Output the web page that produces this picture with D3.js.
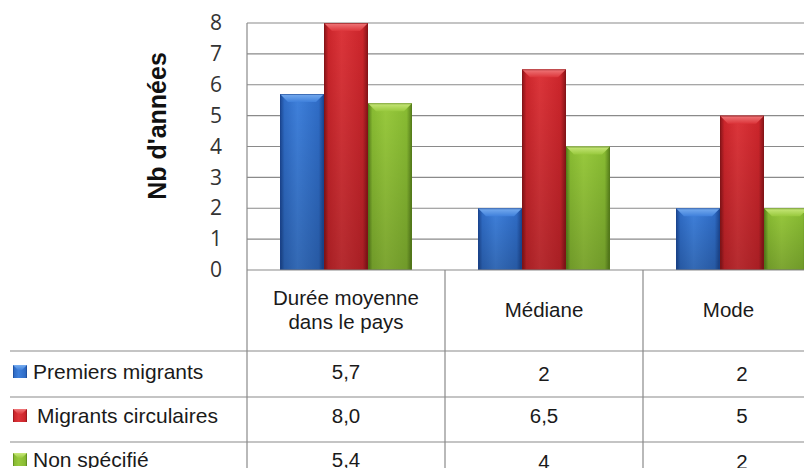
<!DOCTYPE html>
<html>
<head>
<meta charset="utf-8">
<script src="https://cdn.jsdelivr.net/npm/d3@7/dist/d3.min.js"></script>
<style>
  html, body { margin: 0; padding: 0; background: #fff; }
  svg { display: block; }
</style>
</head>
<body>
<svg id="chart" width="804" height="468"></svg>
<script>
// Categories (columns of the data table) and series (rows)
const categories = ["Durée moyenne\ndans le pays", "Médiane", "Mode"];
const seriesNames = ["Premiers migrants", "Migrants circulaires", "Non spécifié"];
const premiersMigrants = [5.7, 2, 2];
const migrantsCirculaires = [8.0, 6.5, 5];
const nonSpecifie = [5.4, 4, 2];
const tableLabels = [["5,7", "2", "2"], ["8,0", "6,5", "5"], ["5,4", "4", "2"]];
const yTicks = [0, 1, 2, 3, 4, 5, 6, 7, 8];

const seriesValues = [premiersMigrants, migrantsCirculaires, nonSpecifie];
const palette = [
  { mid: "#2f6cc6", light: "#3f80db", dark: "#1a4590", top: "#79aef0" },
  { mid: "#cc252b", light: "#dc353a", dark: "#851418", top: "#f07a7c" },
  { mid: "#88bb32", light: "#98c93d", dark: "#557d1a", top: "#c9e87c" }
];

const svg = d3.select("#chart");
const defs = svg.append("defs");

palette.forEach((c, i) => {
  const g = defs.append("linearGradient").attr("id", "body" + i)
    .attr("x1", "0").attr("x2", "1").attr("y1", "0").attr("y2", "0");
  g.append("stop").attr("offset", "0%").attr("stop-color", c.dark);
  g.append("stop").attr("offset", "10%").attr("stop-color", c.mid);
  g.append("stop").attr("offset", "40%").attr("stop-color", c.light);
  g.append("stop").attr("offset", "88%").attr("stop-color", c.mid);
  g.append("stop").attr("offset", "100%").attr("stop-color", c.dark);
  const t = defs.append("linearGradient").attr("id", "top" + i)
    .attr("x1", "0").attr("x2", "0").attr("y1", "0").attr("y2", "1");
  t.append("stop").attr("offset", "0%").attr("stop-color", c.top);
  t.append("stop").attr("offset", "100%").attr("stop-color", c.light);
});
// Darkening towards the foot of every bar
const shade = defs.append("linearGradient").attr("id", "shade")
  .attr("x1", "0").attr("x2", "0").attr("y1", "0").attr("y2", "1");
shade.append("stop").attr("offset", "0%").attr("stop-color", "#000").attr("stop-opacity", 0);
shade.append("stop").attr("offset", "100%").attr("stop-color", "#000").attr("stop-opacity", 0.18);

const plotLeft = 247, plotTop = 23, plotBottom = 270, catWidth = 198;
const tableLeft = 10, tableRight = 804;
const font = "'Liberation Sans', Arial, sans-serif";

const x = d3.scaleBand().domain(d3.range(categories.length))
  .range([plotLeft, plotLeft + catWidth * categories.length]).padding(0);
const xs = d3.scaleBand().domain(d3.range(seriesNames.length))
  .range([0, x.bandwidth()]).paddingInner(0).paddingOuter(0.75);
const y = d3.scaleLinear().domain([0, 8]).range([plotBottom, plotTop]);

// Gridlines
svg.append("g").selectAll("line").data(yTicks.filter(d => d > 0)).join("line")
  .attr("x1", plotLeft).attr("x2", tableRight)
  .attr("y1", d => y(d)).attr("y2", d => y(d))
  .attr("stroke", "#8a8a8a").attr("stroke-width", 1.2);

// Y axis
const yAxis = svg.append("g").attr("transform", `translate(${plotLeft},0)`)
  .call(d3.axisLeft(y).tickValues(yTicks).tickSize(0).tickPadding(25));
yAxis.select(".domain").remove();
yAxis.selectAll("text")
  .attr("font-family", "'Open Sans', 'Noto Sans', sans-serif")
  .attr("font-size", 21).attr("fill", "#333");

svg.append("text")
  .attr("transform", `translate(166,126) rotate(-90)`)
  .attr("text-anchor", "middle")
  .attr("font-family", font)
  .attr("font-weight", "bold").attr("font-size", 25).attr("fill", "#111")
  .text("Nb d'années");

// Bars
const barData = [];
seriesValues.forEach((vals, s) => vals.forEach((v, c) => barData.push({ s, c, v })));
const bars = svg.append("g").selectAll("g").data(barData).join("g");
const bx = d => x(d.c) + xs(d.s);
bars.append("rect")
  .attr("x", bx).attr("y", d => y(d.v))
  .attr("width", xs.bandwidth()).attr("height", d => y(0) - y(d.v))
  .attr("fill", d => `url(#body${d.s})`);
bars.append("rect")
  .attr("x", bx).attr("y", d => y(d.v))
  .attr("width", xs.bandwidth()).attr("height", d => y(0) - y(d.v))
  .attr("fill", "url(#shade)");
bars.append("path")
  .attr("d", d => {
    const x0 = bx(d), x1 = x0 + xs.bandwidth(), t = y(d.v), b = 8;
    return `M${x0},${t}L${x1},${t}L${x1 - b},${t + b}L${x0 + b},${t + b}Z`;
  })
  .attr("fill", d => `url(#top${d.s})`);
bars.append("rect")
  .attr("x", d => bx(d) + 0.5).attr("y", d => y(d.v) + 0.5)
  .attr("width", xs.bandwidth() - 1).attr("height", d => y(0) - y(d.v) - 1)
  .attr("fill", "none").attr("stroke", d => palette[d.s].dark).attr("stroke-opacity", 0.6);

// Table lines
const lines = svg.append("g").attr("stroke", "#8a8a8a").attr("stroke-width", 1.2);
lines.append("line").attr("x1", plotLeft).attr("x2", tableRight).attr("y1", plotBottom).attr("y2", plotBottom);
const rowLines = [351, 397, 442];
rowLines.forEach(ry => lines.append("line")
  .attr("x1", tableLeft).attr("x2", tableRight).attr("y1", ry).attr("y2", ry));
lines.append("line").attr("x1", plotLeft).attr("x2", plotLeft).attr("y1", plotTop).attr("y2", 468);
d3.range(1, categories.length).forEach(c => lines.append("line")
  .attr("x1", x(c)).attr("x2", x(c)).attr("y1", plotBottom).attr("y2", 468));

// Header row: text centred in the visible part of each cell
categories.forEach((cat, c) => {
  const parts = cat.split("\n");
  const right = Math.min(x(c) + x.bandwidth(), tableRight + 10);
  const cx = (x(c) + right) / 2;
  const cy = 310;
  parts.forEach((p, i) => {
    svg.append("text").attr("x", cx)
      .attr("y", cy + (i - (parts.length - 1) / 2) * 24)
      .attr("dy", "0.35em").attr("text-anchor", "middle")
      .attr("font-family", font).attr("font-size", 20.5).attr("fill", "#1a1a1a")
      .text(p);
  });
});

// Data rows with legend keys
const rowCenters = [372, 416, 460];
seriesNames.forEach((name, s) => {
  const cy = rowCenters[s];
  svg.append("rect").attr("x", 13).attr("y", cy - 7).attr("width", 14).attr("height", 13)
    .attr("fill", `url(#body${s})`);
  svg.append("path")
    .attr("d", `M13,${cy - 7}L27,${cy - 7}L22,${cy - 2}L18,${cy - 2}Z`)
    .attr("fill", `url(#top${s})`);
  svg.append("text").attr("x", s === 1 ? 37 : 33).attr("y", cy).attr("dy", "0.35em")
    .attr("font-family", font).attr("font-size", 21).attr("fill", "#1a1a1a")
    .text(name);
  tableLabels[s].forEach((lbl, c) => {
    svg.append("text").attr("x", x(c) + x.bandwidth() / 2).attr("y", cy + (c > 0 && s !== 1 ? 2 : 0))
      .attr("dy", "0.35em").attr("text-anchor", "middle")
      .attr("font-family", font).attr("font-size", 20.5).attr("fill", "#1a1a1a")
      .text(lbl);
  });
});
</script>
</body>
</html>
